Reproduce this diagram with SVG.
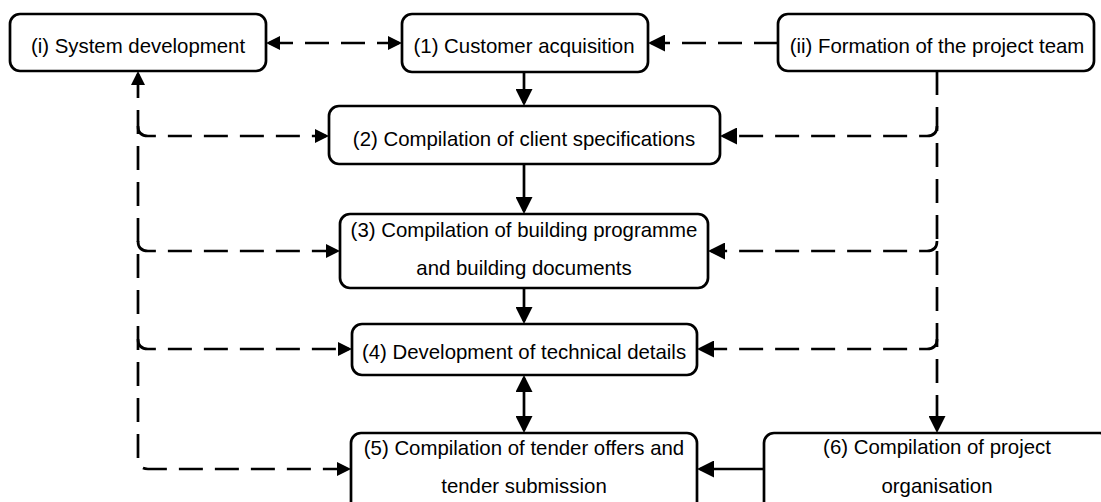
<svg xmlns="http://www.w3.org/2000/svg" width="1101" height="502" viewBox="0 0 1101 502">
<style>
.box{fill:#fff;stroke:#000;stroke-width:2.7}
.lbl{font-family:"Liberation Sans",Arial,sans-serif;font-size:20.4px;fill:#000;text-anchor:middle}
.c{fill:none;stroke:#000;stroke-width:2.7}
.d{stroke-dasharray:24 12}
</style>
<defs>
<marker id="as" markerUnits="userSpaceOnUse" viewBox="0 0 14 14" refX="11" refY="7" markerWidth="14" markerHeight="14" orient="auto-start-reverse"><path d="M0,0 L14,7 L0,14 z" fill="#000"/></marker>
<marker id="al" markerUnits="userSpaceOnUse" viewBox="0 0 17 17" refX="14" refY="8.5" markerWidth="17" markerHeight="17" orient="auto-start-reverse"><path d="M0,0 L17,8.5 L0,17 z" fill="#000"/></marker>
</defs>
<rect width="1101" height="502" fill="#fff"/>
<g id="connectors">
<path class="c d" d="M269 43 L399 43" marker-start="url(#as)" marker-end="url(#as)"/>
<path class="c d" d="M778 43 L651 43" marker-end="url(#al)"/>
<path class="c" d="M524 72 L524 103" marker-end="url(#al)"/>
<path class="c" d="M524 164 L524 211" marker-end="url(#al)"/>
<path class="c" d="M524 288 L524 321" marker-end="url(#al)"/>
<path class="c" d="M524 378 L524 430" marker-start="url(#al)" marker-end="url(#al)"/>
<path class="c" d="M764 469 L700 469" marker-end="url(#al)"/>
<path class="c d" d="M138 74 L138 459 Q138 469 148 469 L348 469" marker-start="url(#as)" marker-end="url(#as)"/>
<path class="c d" d="M138 126 Q138 136 148 136 L326 136" marker-end="url(#as)"/>
<path class="c d" d="M138 241 Q138 251 148 251 L337 251" marker-end="url(#as)"/>
<path class="c d" d="M138 339 Q138 349 148 349 L349 349" marker-end="url(#as)"/>
<path class="c d" d="M937 71 L937 430" marker-end="url(#al)"/>
<path class="c d" d="M937 126 Q937 136 927 136 L723 136" marker-end="url(#al)"/>
<path class="c d" d="M937 241 Q937 251 927 251 L711 251" marker-end="url(#al)"/>
<path class="c d" d="M937 339 Q937 349 927 349 L700 349" marker-end="url(#al)"/>
</g>
<g id="node-i"><rect class="box" x="10" y="14" width="256" height="57" rx="10"/><text class="lbl" x="138" y="53">(i) System development</text></g>
<g id="node-1"><rect class="box" x="402" y="14" width="246" height="58" rx="10"/><text class="lbl" x="524" y="53">(1) Customer acquisition</text></g>
<g id="node-ii"><rect class="box" x="778" y="14" width="316" height="57" rx="10"/><text class="lbl" x="937" y="53">(ii) Formation of the project team</text></g>
<g id="node-2"><rect class="box" x="329" y="106" width="391" height="58" rx="10"/><text class="lbl" x="524" y="146">(2) Compilation of client specifications</text></g>
<g id="node-3"><rect class="box" x="340" y="214" width="368" height="74" rx="10"/><text class="lbl" x="524" y="236.5">(3) Compilation of building programme</text><text class="lbl" x="524" y="275">and building documents</text></g>
<g id="node-4"><rect class="box" x="352" y="324" width="345" height="51" rx="10"/><text class="lbl" x="524" y="359">(4) Development of technical details</text></g>
<g id="node-5"><rect class="box" x="351" y="433" width="346" height="80" rx="10"/><text class="lbl" x="524" y="455">(5) Compilation of tender offers and</text><text class="lbl" x="524" y="493">tender submission</text></g>
<g id="node-6"><rect class="box" x="764" y="433" width="346" height="80" rx="10"/><text class="lbl" x="937" y="454">(6) Compilation of project</text><text class="lbl" x="937" y="493">organisation</text></g>
</svg>
